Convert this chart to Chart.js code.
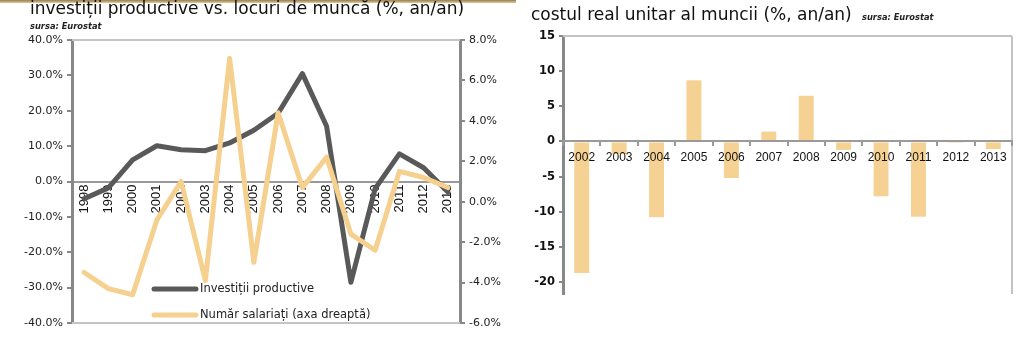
<!DOCTYPE html>
<html><head><meta charset="utf-8">
<script src="https://cdn.jsdelivr.net/npm/chart.js@4/dist/chart.umd.min.js"></script>
<style>
html,body{margin:0;padding:0;background:#fff;width:1024px;height:342px;overflow:hidden;}
body{position:relative;font-family:"DejaVu Sans",sans-serif;}
.wrap{position:absolute;top:0;height:342px;}
#w1{left:0;width:520px;}
#w2{left:520px;width:504px;}
.title{position:absolute;white-space:nowrap;color:#111;font-size:17px;line-height:17px;}
.src{position:absolute;white-space:nowrap;font-style:italic;font-weight:bold;font-size:8.3px;line-height:9px;color:#222;}
#topbar{position:absolute;left:0;top:0;width:516px;height:3px;background:linear-gradient(#9c7c48,#dccca4);}
</style></head>
<body>
<div class="wrap" id="w1"><canvas id="c1" width="520" height="342"></canvas></div>
<div class="wrap" id="w2"><canvas id="c2" width="504" height="342"></canvas></div>
<div id="topbar"></div>
<div class="title" style="left:30px;top:0px">investiții productive vs. locuri de muncă (%, an/an)</div>
<div class="src" style="left:30px;top:21.5px">sursa: Eurostat</div>
<div class="title" style="left:531px;top:6px">costul real unitar al muncii (%, an/an)</div>
<div class="src" style="left:862px;top:12.5px">sursa: Eurostat</div>
<script>
// ---- data: left chart ----
const years = ['1998','1999','2000','2001','2002','2003','2004','2005','2006','2007','2008','2009','2010','2011','2012','2013'];
const investitii = [-4.9, -1.8, 6.1, 10.1, 9.0, 8.7, 10.9, 14.5, 19.3, 30.5, 15.6, -28.5, -2.0, 7.8, 3.9, -3.0];
const salariati = [-3.5, -4.3, -4.6, -0.9, 1.0, -3.9, 7.1, -3.0, 4.4, 0.7, 2.2, -1.6, -2.4, 1.5, 1.2, 0.7];
const labelInvest = 'Investiții productive';
const labelSalariati = 'Număr salariați (axa dreaptă)';
// ---- data: right chart ----
const years2 = ['2002','2003','2004','2005','2006','2007','2008','2009','2010','2011','2012','2013'];
const costMunca = [-18.7, -1.8, -10.8, 8.7, -5.2, 1.4, 6.5, -1.2, -7.8, -10.7, -0.2, -1.1];

const DARK = '#595959';
const TAN = '#F5D08E';
const BAR = '#F5D294';

const framePlugin = {
  id: 'frame',
  beforeDatasetsDraw(chart, args, opts) {
    const {ctx, chartArea: a} = chart;
    ctx.save();
    ctx.strokeStyle = opts.color;
    ctx.lineWidth = opts.width;
    ctx.beginPath();
    if (opts.sides.includes('top')) { ctx.moveTo(a.left, a.top); ctx.lineTo(a.right, a.top); }
    if (opts.sides.includes('bottom')) { ctx.moveTo(a.left, a.bottom); ctx.lineTo(a.right, a.bottom); }
    if (opts.sides.includes('right')) { ctx.moveTo(a.right, a.top); ctx.lineTo(a.right, a.bottom); }
    ctx.stroke();
    ctx.restore();
  }
};

const innerLegend = {
  id: 'innerLegend',
  afterDatasetsDraw(chart, args, opts) {
    if (!opts.show) return;
    const {ctx, chartArea: a} = chart;
    ctx.save();
    ctx.font = '11.5px "DejaVu Sans"';
    ctx.textBaseline = 'middle';
    ctx.fillStyle = '#222';
    chart.data.datasets.forEach((ds, i) => {
      const y = a.bottom - 34 + i * 26;
      const x0 = a.left + 82;
      ctx.strokeStyle = ds.borderColor;
      ctx.lineWidth = 5;
      ctx.lineCap = 'round';
      ctx.beginPath(); ctx.moveTo(x0, y); ctx.lineTo(x0 + 42, y); ctx.stroke();
      ctx.fillText(ds.label, x0 + 46, y);
    });
    ctx.restore();
  }
};

const tickFontL = {family: '"DejaVu Sans"', size: 11};

new Chart(document.getElementById('c1'), {
  type: 'line',
  data: {
    labels: years,
    datasets: [
      {label: labelInvest, data: investitii, yAxisID: 'y', borderColor: DARK, backgroundColor: DARK,
       borderWidth: 5, pointRadius: 0, tension: 0, borderJoinStyle: 'round', borderCapStyle: 'round', order: 1},
      {label: labelSalariati, data: salariati, yAxisID: 'y1', borderColor: TAN, backgroundColor: TAN,
       borderWidth: 5, pointRadius: 0, tension: 0, borderJoinStyle: 'round', borderCapStyle: 'round', order: 0}
    ]
  },
  options: {
    responsive: false, animation: false, devicePixelRatio: 1,
    layout: {padding: {top: 40, bottom: 19, left: 0, right: 0}},
    plugins: {
      legend: {display: false}, tooltip: {enabled: false},
      frame: {color: '#c4c4c4', width: 2, sides: ['top', 'bottom']},
      innerLegend: {show: true}
    },
    scales: {
      x: {
        type: 'category', position: {y: 0}, offset: true,
        afterFit: s => { s.height = 0; },
        grid: {display: true, drawOnChartArea: false, drawTicks: false, color: '#999'},
        border: {display: true, color: '#9a9a9a', width: 2},
        ticks: {autoSkip: false, minRotation: 90, maxRotation: 90, padding: 3,
                font: {family: '"Liberation Sans"', size: 13}, color: '#111'}
      },
      y: {
        position: 'left', min: -40, max: 40,
        afterFit: s => { s.width = 72; },
        grid: {drawOnChartArea: false, drawTicks: true, tickLength: 5, color: '#888', lineWidth: 2},
        border: {display: true, color: '#888', width: 3},
        ticks: {stepSize: 10, padding: 4, font: tickFontL, color: '#222',
                callback: v => v.toFixed(1) + '%'}
      },
      y1: {
        position: 'right', min: -6, max: 8,
        afterFit: s => { s.width = 60; },
        grid: {drawOnChartArea: false, drawTicks: true, tickLength: 5, color: '#888', lineWidth: 2},
        border: {display: true, color: '#888', width: 3},
        ticks: {stepSize: 2, padding: 4, font: tickFontL, color: '#222',
                callback: v => v.toFixed(1) + '%'}
      }
    }
  },
  plugins: [framePlugin, innerLegend]
});

new Chart(document.getElementById('c2'), {
  type: 'bar',
  data: {
    labels: years2,
    datasets: [{data: costMunca, backgroundColor: BAR, borderWidth: 0,
                barPercentage: 0.4, categoryPercentage: 1.0}]
  },
  options: {
    responsive: false, animation: false, devicePixelRatio: 1,
    layout: {padding: {top: 36, bottom: 48, left: 0, right: 12}},
    plugins: {
      legend: {display: false}, tooltip: {enabled: false},
      frame: {color: '#c4c4c4', width: 2, sides: ['top', 'right']}
    },
    scales: {
      x: {
        type: 'category', position: {y: 0},
        afterFit: s => { s.height = 0; },
        grid: {display: true, offset: true, drawOnChartArea: false, drawTicks: true, tickLength: 4, color: '#999', lineWidth: 2, z: 1},
        border: {display: true, color: '#9a9a9a', width: 2, z: 1},
        ticks: {autoSkip: false, maxRotation: 0, padding: 5, z: 1,
                font: {family: '"Liberation Sans"', size: 12}, color: '#111'}
      },
      y: {
        min: -21.7, max: 15,
        afterFit: s => { s.width = 43; },
        afterBuildTicks: s => {
          s.ticks = s.ticks
            .filter(t => Math.abs(Math.round(t.value / 5) * 5 - t.value) < 1e-6 && t.value > -21)
            .map(t => ({value: Math.round(t.value / 5) * 5}));
        },
        grid: {drawOnChartArea: false, drawTicks: true, tickLength: 4, color: '#888', lineWidth: 2},
        border: {display: true, color: '#888', width: 3},
        ticks: {stepSize: 5, includeBounds: false, padding: 4,
                font: {family: '"DejaVu Sans"', size: 11.5, weight: 'bold'}, color: '#111'}
      }
    }
  },
  plugins: [framePlugin]
});
</script>
</body></html>
